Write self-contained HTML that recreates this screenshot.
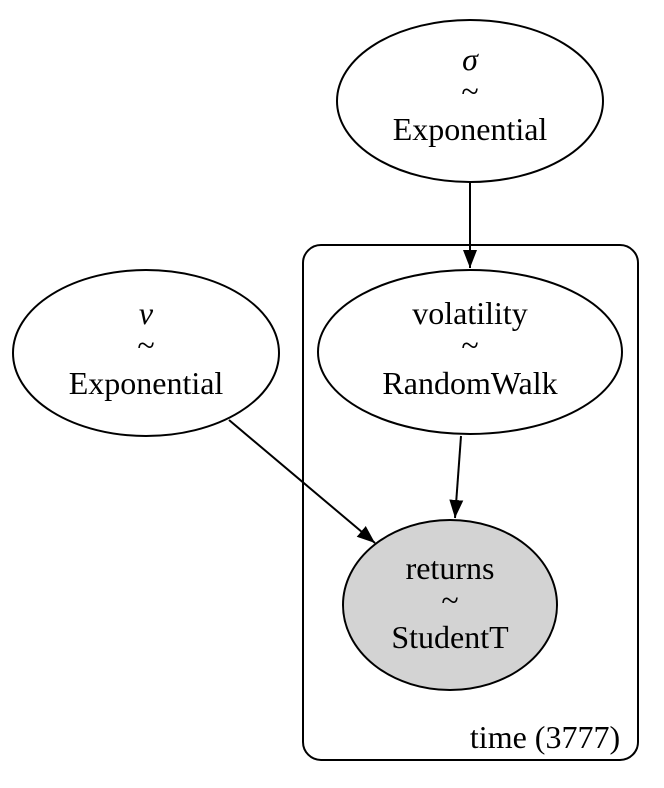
<!DOCTYPE html>
<html><head><meta charset="utf-8"><style>html,body{margin:0;padding:0;background:#fff}</style></head>
<body>
<svg width="664" height="783" viewBox="0 0 664 783" xmlns="http://www.w3.org/2000/svg" font-family="Liberation Serif, serif" font-size="32" text-anchor="middle">
<defs>
<marker id="b" markerWidth="20" markerHeight="20" refX="18" refY="7" orient="auto" markerUnits="userSpaceOnUse"><path d="M0,0 L18,7 L0,14z" fill="#000"/></marker></defs>
<rect x="303" y="245" width="335" height="515" rx="18" fill="none" stroke="#000" stroke-width="2"/>
<text x="545" y="748">time (3777)</text>
<ellipse cx="470" cy="101" rx="133" ry="81" fill="#fff" stroke="#000" stroke-width="2"/>
<text x="470" y="70" font-style="italic">σ</text><text x="470" y="102">~</text><text x="470" y="140">Exponential</text>
<ellipse cx="146" cy="353" rx="133" ry="83" fill="#fff" stroke="#000" stroke-width="2"/>
<text x="146" y="324" font-style="italic">ν</text><text x="146" y="356">~</text><text x="146" y="394">Exponential</text>
<ellipse cx="470" cy="352" rx="152" ry="82" fill="#fff" stroke="#000" stroke-width="2"/>
<text x="470" y="324">volatility</text><text x="470" y="356">~</text><text x="470" y="394">RandomWalk</text>
<ellipse cx="450" cy="605" rx="107" ry="85" fill="#d3d3d3" stroke="#000" stroke-width="2"/>
<text x="450" y="579">returns</text><text x="450" y="611">~</text><text x="450" y="648">StudentT</text>
<line x1="470" y1="182" x2="470" y2="268" stroke="#000" stroke-width="2" marker-end="url(#b)"/>
<line x1="461" y1="436" x2="455" y2="518" stroke="#000" stroke-width="2" marker-end="url(#b)"/>
<line x1="229" y1="420" x2="375" y2="543" stroke="#000" stroke-width="2" marker-end="url(#b)"/>
</svg>
</body></html>
